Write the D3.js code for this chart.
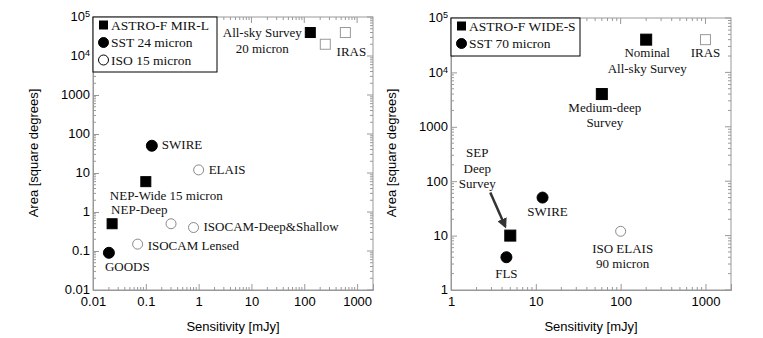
<!DOCTYPE html>
<html>
<head>
<meta charset="utf-8">
<script src="https://cdn.jsdelivr.net/npm/d3@7"></script>
<style>
  body { margin: 0; background: #fff; }
  .tick text { font-family: 'Liberation Sans', Arial, sans-serif; font-size: 13px; fill: #000; }
  .ann { font-family: 'Liberation Serif', 'Times New Roman', serif; font-size: 13px; fill: #111; }
  .title { font-family: 'Liberation Sans', Arial, sans-serif; font-size: 13px; fill: #000; }
</style>
</head>
<body>
<svg width="763" height="338"></svg>
<script>
// ---- data (sensitivity in mJy, area in square degrees) ----
const mirL = [
    { name: 'All-sky', sens: 130, area: 40000 },
    { name: 'NEP-Wide', sens: 0.1, area: 6 },
    { name: 'NEP-Deep', sens: 0.023, area: 0.5 }
];
const sst24 = [
    { name: 'SWIRE', sens: 0.13, area: 50 },
    { name: 'GOODS', sens: 0.02, area: 0.09 }
];
const iso15 = [
    { name: 'ELAIS', sens: 1, area: 12 },
    { name: 'ISO-a', sens: 0.3, area: 0.5 },
    { name: 'Deep&Shallow', sens: 0.8, area: 0.4 },
    { name: 'Lensed', sens: 0.07, area: 0.15 }
];
const irasLeft = [
    { name: 'IRAS-a', sens: 250, area: 20000 },
    { name: 'IRAS', sens: 600, area: 40000 }
];
const wideS = [
    { name: 'Nominal', sens: 200, area: 40000 },
    { name: 'Medium', sens: 60, area: 4000 },
    { name: 'SEP', sens: 5, area: 10 }
];
const sst70 = [
    { name: 'SWIRE', sens: 12, area: 50 },
    { name: 'FLS', sens: 4.5, area: 4 }
];
const iso90 = [
    { name: 'ELAIS', sens: 100, area: 12 }
];
const irasRight = [
    { name: 'IRAS', sens: 1000, area: 40000 }
];

const leftYTicks = [0.01, 0.1, 1, 10, 100, 1000, 1e4, 1e5];
const leftXTicks = [0.01, 0.1, 1, 10, 100, 1000];
const rightYTicks = [1, 10, 100, 1000, 1e4, 1e5];
const rightXTicks = [1, 10, 100, 1000];

const svg = d3.select('svg');
const frameColor = '#999';

// label text + offsets from the point (px)
const leftLabels = {
    'All-sky': { lines: ['All-sky Survey', '20 micron'], dx: -48, dy: 0, anchor: 'middle' },
    'IRAS': { lines: ['IRAS'], dx: 6, dy: 19, anchor: 'middle' },
    'SWIRE': { lines: ['SWIRE'], dx: 10, dy: -1, anchor: 'start' },
    'ELAIS': { lines: ['ELAIS'], dx: 10, dy: 0, anchor: 'start' },
    'NEP-Wide': { lines: ['NEP-Wide 15 micron'], dx: -36, dy: 14, anchor: 'start' },
    'NEP-Deep': { lines: ['NEP-Deep'], dx: -1, dy: -14, anchor: 'start' },
    'GOODS': { lines: ['GOODS'], dx: -4, dy: 14, anchor: 'start' },
    'Deep&Shallow': { lines: ['ISOCAM-Deep&Shallow'], dx: 10, dy: -1, anchor: 'start' },
    'Lensed': { lines: ['ISOCAM Lensed'], dx: 10, dy: 1, anchor: 'start' }
};
const rightLabels = {
    'Nominal': { lines: ['Nominal', 'All-sky Survey'], dx: 1, dy: 13, anchor: 'middle' },
    'IRAS': { lines: ['IRAS'], dx: 0, dy: 13, anchor: 'middle' },
    'Medium': { lines: ['Medium-deep', 'Survey'], dx: 3, dy: 13, anchor: 'middle' },
    'SEP': { lines: ['SEP', 'Deep', 'Survey'], dx: -33, dy: -83, anchor: 'middle' },
    'SWIRE': { lines: ['SWIRE'], dx: 5, dy: 14, anchor: 'middle' },
    'FLS': { lines: ['FLS'], dx: 0, dy: 16, anchor: 'middle' },
    'ELAIS': { lines: ['ISO ELAIS', '90 micron'], dx: 2, dy: 17, anchor: 'middle' }
};

const fmtTick = (g, d) => {
    const t = d3.select(g);
    t.text('').attr('dy', '0.3em');
    if (d >= 1e4) {
        t.append('tspan').text('10');
        t.append('tspan').attr('dy', '-0.45em').style('font-size', '9px').text(Math.round(Math.log10(d)));
    } else {
        t.text(d < 1 ? String(d) : d3.format('d')(d));
    }
};

const minorTicks = domain => {
    const out = [];
    const lo = Math.floor(Math.log10(domain[0]));
    const hi = Math.ceil(Math.log10(domain[1]));
    for (let e = lo; e <= hi; e++) {
        for (let k = 2; k <= 9; k++) {
            const v = k * Math.pow(10, e);
            if (v > domain[0] && v < domain[1]) out.push(v);
        }
    }
    return out;
};

const panel = opts => {
    const { left, top, width, height, xDomain, yDomain, xTicks, yTicks } = opts;
    const g = svg.append('g').attr('transform', `translate(${left},${top})`);

    const xScale = d3.scaleLog().domain(xDomain).range([0, width]);
    const yScale = d3.scaleLog().domain(yDomain).range([height, 0]);

    // minor ticks, inward on all four sides
    const mx = minorTicks(xDomain);
    const my = minorTicks(yDomain);
    const tickG = g.append('g').attr('stroke', frameColor).attr('stroke-width', 1);
    mx.forEach(v => {
        const x = xScale(v);
        tickG.append('line').attr('x1', x).attr('x2', x).attr('y1', height).attr('y2', height - 3);
        tickG.append('line').attr('x1', x).attr('x2', x).attr('y1', 0).attr('y2', 3);
    });
    my.forEach(v => {
        const y = yScale(v);
        tickG.append('line').attr('x1', 0).attr('x2', 3).attr('y1', y).attr('y2', y);
        tickG.append('line').attr('x1', width).attr('x2', width - 3).attr('y1', y).attr('y2', y);
    });
    xTicks.forEach(v => {
        tickG.append('line').attr('x1', xScale(v)).attr('x2', xScale(v)).attr('y1', 0).attr('y2', 6);
    });
    yTicks.forEach(v => {
        tickG.append('line').attr('x1', width).attr('x2', width - 6).attr('y1', yScale(v)).attr('y2', yScale(v));
    });

    const xAxis = d3.axisBottom(xScale).tickValues(xTicks).tickSize(-6).tickPadding(5)
        .tickFormat(d => d < 1 ? String(d) : d3.format('d')(d));
    const xAxisG = g.append('g').attr('transform', `translate(0,${height})`).call(xAxis);
    xAxisG.selectAll('.tick text').attr('dy', '0.85em');

    const yAxis = d3.axisLeft(yScale).tickValues(yTicks).tickSize(-6).tickPadding(3).tickFormat(() => '');
    const yAxisG = g.append('g').call(yAxis);
    yAxisG.selectAll('.tick text').each(function (d) { fmtTick(this, d); });

    [xAxisG, yAxisG].forEach(a => {
        a.selectAll('path, line').attr('stroke', frameColor);
    });

    // frame
    g.append('rect').attr('width', width).attr('height', height)
        .attr('fill', 'none').attr('stroke', frameColor);

    return { g, xScale, yScale };
};

const drawSquares = (p, data, size, fill, stroke) => {
    p.g.selectAll(null).data(data).enter().append('rect')
        .attr('x', d => p.xScale(d.sens) - size / 2)
        .attr('y', d => p.yScale(d.area) - size / 2)
        .attr('width', size).attr('height', size)
        .attr('fill', fill).attr('stroke', stroke);
};
const drawCircles = (p, data, r, fill, stroke) => {
    p.g.selectAll(null).data(data).enter().append('circle')
        .attr('cx', d => p.xScale(d.sens))
        .attr('cy', d => p.yScale(d.area))
        .attr('r', r)
        .attr('fill', fill).attr('stroke', stroke);
};
const drawLabels = (p, data, labels) => {
    data.forEach(d => {
        const l = labels[d.name];
        if (!l) return;
        const t = p.g.append('text').attr('class', 'ann')
            .attr('text-anchor', l.anchor)
            .attr('x', p.xScale(d.sens) + l.dx)
            .attr('y', p.yScale(d.area) + l.dy);
        l.lines.forEach((s, i) => {
            t.append('tspan').attr('x', p.xScale(d.sens) + l.dx)
                .attr('dy', i === 0 ? '0.35em' : '1.2em').text(s);
        });
    });
};
const drawLegend = (p, w, h, items) => {
    const lg = p.g.append('g');
    lg.append('rect').attr('width', w).attr('height', h).attr('fill', '#fff').attr('stroke', '#000');
    items.forEach((it, i) => {
        const cy = 8 + i * 17.5;
        if (it.type === 'square') {
            lg.append('rect').attr('x', 6).attr('y', cy - 4.5).attr('width', 9).attr('height', 9).attr('fill', '#000');
        } else {
            lg.append('circle').attr('cx', 10.5).attr('cy', cy).attr('r', 5)
                .attr('fill', it.type === 'open' ? '#fff' : '#000')
                .attr('stroke', '#000');
        }
        lg.append('text').attr('class', 'ann').style('font-size', '13.5px')
            .attr('x', 18).attr('y', cy).attr('dy', '0.35em').text(it.label);
    });
};

// ---- left panel: MIR ----
const pL = panel({
    left: 93, top: 17, width: 280, height: 273,
    xDomain: [0.01, 2000], yDomain: [0.01, 1e5],
    xTicks: leftXTicks, yTicks: leftYTicks
});
drawSquares(pL, irasLeft, 10, '#fff', '#999');
drawCircles(pL, iso15, 5, '#fff', '#888');
drawCircles(pL, sst24, 5.5, '#000', '#000');
drawSquares(pL, mirL, 10, '#000', '#000');
drawLabels(pL, [...mirL, ...sst24, ...iso15, ...irasLeft], leftLabels);
drawLegend(pL, 124, 55, [
    { type: 'square', label: 'ASTRO-F MIR-L' },
    { type: 'filled', label: 'SST 24 micron' },
    { type: 'open', label: 'ISO 15 micron' }
]);

// ---- right panel: FIR ----
const pR = panel({
    left: 451, top: 18, width: 280, height: 272,
    xDomain: [1, 2000], yDomain: [1, 1e5],
    xTicks: rightXTicks, yTicks: rightYTicks
});
drawSquares(pR, irasRight, 10, '#fff', '#999');
drawCircles(pR, iso90, 5, '#fff', '#888');
drawCircles(pR, sst70, 5.5, '#000', '#000');
drawSquares(pR, wideS, 11, '#000', '#000');
drawLabels(pR, [...wideS, ...sst70, ...iso90, ...irasRight], rightLabels);
drawLegend(pR, 129, 38, [
    { type: 'square', label: 'ASTRO-F WIDE-S' },
    { type: 'filled', label: 'SST 70 micron' }
]);

// arrow to SEP deep survey
const sep = wideS.find(d => d.name === 'SEP');
const sx = pR.xScale(sep.sens), sy = pR.yScale(sep.area);
svg.append('defs').append('marker')
    .attr('id', 'arr').attr('viewBox', '0 0 10 10').attr('refX', 8).attr('refY', 5)
    .attr('markerWidth', 4).attr('markerHeight', 4).attr('orient', 'auto')
    .append('path').attr('d', 'M0,0 L10,5 L0,10 z').attr('fill', '#333');
pR.g.append('line')
    .attr('x1', sx - 20).attr('y1', sy - 43)
    .attr('x2', sx - 5).attr('y2', sy - 9)
    .attr('stroke', '#333').attr('stroke-width', 2.5)
    .attr('marker-end', 'url(#arr)');

// axis titles
[pL, pR].forEach((p, i) => {
    const left = i === 0 ? 93 : 451;
    svg.append('text').attr('class', 'title')
        .attr('text-anchor', 'middle')
        .attr('x', left + 140).attr('y', 331)
        .text('Sensitivity [mJy]');
    svg.append('text').attr('class', 'title')
        .attr('text-anchor', 'middle')
        .attr('transform', `translate(${i === 0 ? 38 : 396},153) rotate(-90)`)
        .text('Area [square degrees]');
});
</script>
</body>
</html>
